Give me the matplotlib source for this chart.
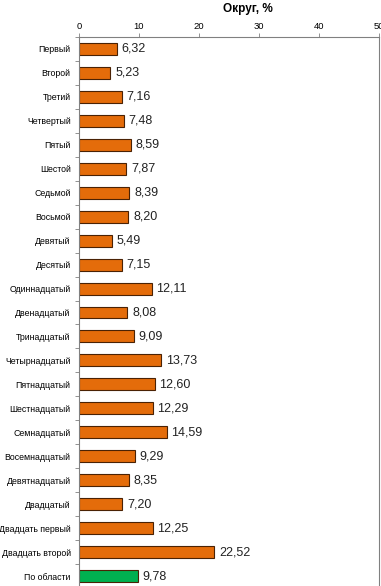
import matplotlib
matplotlib.use("Agg")
import matplotlib.pyplot as plt
import numpy as np

categories = ["Первый", "Второй", "Третий", "Четвертый", "Пятый", "Шестой", "Седьмой",
              "Восьмой", "Девятый", "Десятый", "Одиннадцатый", "Двенадцатый", "Тринадцатый",
              "Четырнадцатый", "Пятнадцатый", "Шестнадцатый", "Семнадцатый", "Восемнадцатый",
              "Девятнадцатый", "Двадцатый", "Двадцать первый", "Двадцать второй", "По области"]
values = [6.32, 5.23, 7.16, 7.48, 8.59, 7.87, 8.39, 8.20, 5.49, 7.15, 12.11, 8.08, 9.09,
          13.73, 12.60, 12.29, 14.59, 9.29, 8.35, 7.20, 12.25, 22.52, 9.78]
x_ticks = [0, 10, 20, 30, 40, 50]
title = "Округ, %"

plt.rcParams['font.family'] = ['Liberation Sans', 'DejaVu Sans']

W, H = 381, 586
fig = plt.figure(figsize=(W / 100, H / 100), dpi=100)
left, right, top, bottom = 79, 379, 37, 588
ax = fig.add_axes([left / W, 1 - bottom / H, (right - left) / W, (bottom - top) / H])

colors = ['#E46C0A'] * (len(values) - 1) + ['#00B050']
y = np.arange(len(values))
ax.barh(y, values, height=0.5, color=colors, edgecolor='#4a2204', linewidth=0.8)
for yi, v in zip(y, values):
    ax.text(v + 0.8, yi, f"{v:.2f}".replace('.', ','), va='center', ha='left',
            fontsize=9, color='#222222')

ax.set_xlim(0, 50)
ax.set_ylim(len(values) - 0.5, -0.5)
ax.xaxis.tick_top()
ax.set_xticks(x_ticks)
ax.set_xticklabels([str(t) for t in x_ticks], fontsize=6.8)
ax.tick_params(axis='x', direction='out', length=3, width=0.6, color='#808080', pad=1)
ax.set_yticks(y)
ax.set_yticklabels(categories, fontsize=6.3)
ax.tick_params(axis='y', which='major', length=0, pad=6)
ax.set_yticks(np.arange(len(values)) - 0.5, minor=True)
ax.tick_params(axis='y', which='minor', length=3, width=0.6, color='#808080', direction='out')
for s in ['top', 'left', 'right']:
    ax.spines[s].set_color('#808080')
    ax.spines[s].set_linewidth(0.8)
ax.spines['bottom'].set_visible(False)

fig.text(248 / W, 1 - 9 / H, title, ha='center', va='center', fontsize=8.5, fontweight='bold')

fig.savefig("out.png", dpi=100)
